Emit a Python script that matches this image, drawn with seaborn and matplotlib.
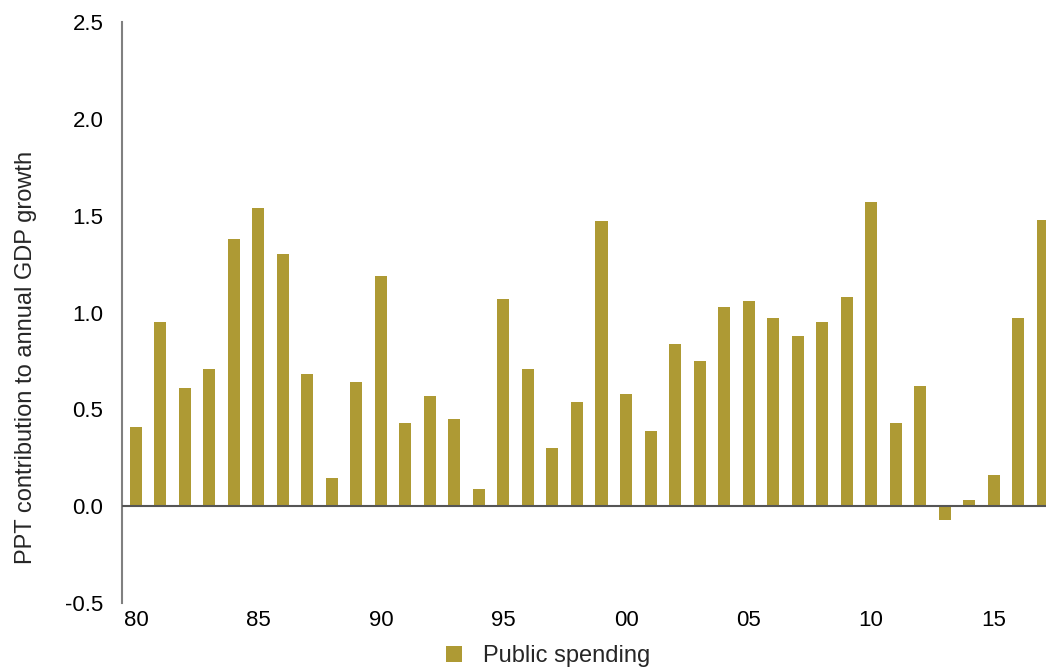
import matplotlib
matplotlib.use("Agg")
import matplotlib.pyplot as plt
import seaborn as sns
import pandas as pd
from matplotlib.patches import Patch

years = list(range(1980, 2018))
public_spending = [
    0.41, 0.95, 0.61, 0.71, 1.38, 1.54, 1.30, 0.68, 0.145, 0.64,
    1.19, 0.43, 0.57, 0.45, 0.09, 1.07, 0.71, 0.30, 0.54, 1.47,
    0.58, 0.39, 0.84, 0.75, 1.03, 1.06, 0.97, 0.88, 0.95, 1.08,
    1.57, 0.43, 0.62, -0.07, 0.03, 0.16, 0.97, 1.48,
]
tick_years = [1980, 1985, 1990, 1995, 2000, 2005, 2010, 2015]
tick_labels = ["80", "85", "90", "95", "00", "05", "10", "15"]
y_ticks = [-0.5, 0.0, 0.5, 1.0, 1.5, 2.0, 2.5]

bar_color = "#AE9A34"

sns.set_theme(style="white")
plt.rcParams["font.family"] = ["Liberation Sans", "DejaVu Sans"]

df = pd.DataFrame({"year": years, "value": public_spending})

fig = plt.figure(figsize=(10.46, 6.71), dpi=100)
ax = fig.add_axes([0.1166, 0.1013, 0.8834, 0.8659])

sns.barplot(data=df, x="year", y="value", native_scale=True, width=0.49,
            color=bar_color, saturation=1, edgecolor="none", ax=ax)

ax.set_xlim(1979.43, 2017.14)
ax.set_ylim(-0.5, 2.5)
ax.axhline(0, color="#555555", lw=1.5, zorder=3)

ax.set_yticks(y_ticks)
ax.set_yticklabels([f"{v:.1f}" for v in y_ticks], fontsize=16)
ax.set_xticks(tick_years)
ax.set_xticklabels(tick_labels, fontsize=16)
ax.tick_params(axis="both", length=0, colors="black")
ax.tick_params(axis="y", pad=13.4)
ax.tick_params(axis="x", pad=5)

for side in ["top", "right", "bottom"]:
    ax.spines[side].set_visible(False)
ax.spines["left"].set_color("#808080")
ax.spines["left"].set_linewidth(1.5)

ax.set_xlabel("")
ax.set_ylabel("PPT contribution to annual GDP growth", fontsize=17)
ax.yaxis.set_label_coords(-0.092, 0.423)

handles = [Patch(facecolor=bar_color, edgecolor="none", label="Public spending")]
fig.legend(handles=handles, loc="center", bbox_to_anchor=(0.524, 0.022),
           frameon=False, fontsize=17, handlelength=0.68, handleheight=0.68,
           handletextpad=0.9, borderpad=0, borderaxespad=0)

fig.savefig("out.png", dpi=100)
